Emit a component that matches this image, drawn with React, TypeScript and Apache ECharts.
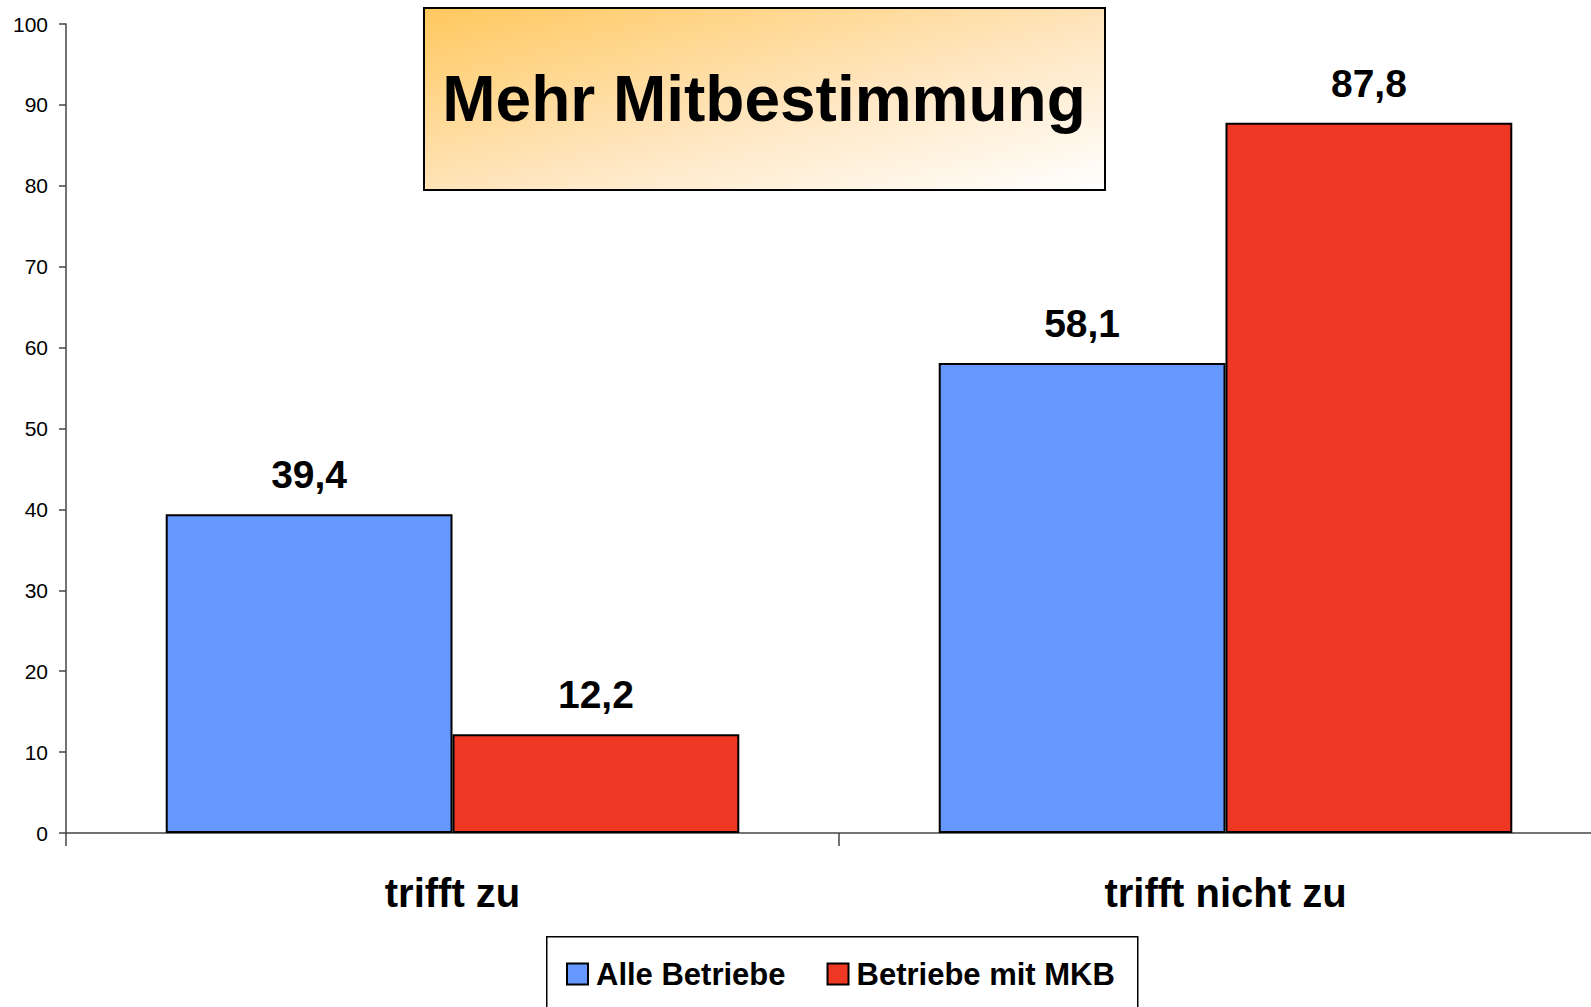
import React, { useEffect, useRef } from "react";
import * as echarts from "echarts";

const categories = ["trifft zu", "trifft nicht zu"];
const seriesNames = ["Alle Betriebe", "Betriebe mit MKB"];
const alleBetriebe = [39.4, 58.1];
const betriebeMitMKB = [12.2, 87.8];
const titleText = "Mehr Mitbestimmung";

const FONT = "'Liberation Sans', Arial, Helvetica, sans-serif";

export default function App() {
  const ref = useRef<HTMLDivElement>(null);
  useEffect(() => {
    document.body.style.margin = "0";
    const chart = echarts.init(ref.current!, null, { renderer: "svg" });
    const fmt = (p: any) => String(p.value).replace(".", ",");
    const labelStyle = {
      show: true,
      position: "top" as const,
      distance: 20,
      formatter: fmt,
      fontFamily: FONT,
      fontSize: 39,
      fontWeight: "bold" as const,
      color: "#000",
    };
    chart.setOption({
      animation: false,
      backgroundColor: "#fff",
      textStyle: { fontFamily: FONT },
      grid: { left: 66, top: 24, bottom: 174, width: 1546, containLabel: false },
      xAxis: {
        type: "category",
        data: categories,
        axisLine: { lineStyle: { color: "#444", width: 1.5 } },
        axisTick: { show: true, length: 13, alignWithLabel: false, lineStyle: { color: "#444", width: 1.5 } },
        axisLabel: {
          margin: 40,
          fontFamily: FONT,
          fontSize: 40,
          fontWeight: "bold",
          color: "#000",
        },
      },
      yAxis: {
        type: "value",
        min: 0,
        max: 100,
        interval: 10,
        splitLine: { show: false },
        axisLine: { show: true, lineStyle: { color: "#444", width: 1.5 } },
        axisTick: { show: true, length: 7, lineStyle: { color: "#444", width: 1.5 } },
        axisLabel: { margin: 18, fontFamily: FONT, fontSize: 21, color: "#000" },
      },
      legend: {
        data: seriesNames,
        left: 566,
        top: 958,
        padding: 0,
        itemWidth: 21,
        itemHeight: 21,
        itemGap: 41,
        icon: "rect",
        textStyle: {
          fontFamily: FONT,
          fontSize: 31,
          fontWeight: "bold",
          color: "#000",
          lineHeight: 32,
          padding: [0, 0, 0, 3],
        },
      },
      graphic: [
        {
          type: "rect",
          left: 423,
          top: 7,
          shape: { width: 681, height: 182 },
          style: {
            fill: {
              type: "linear",
              x: 0,
              y: 0,
              x2: 1,
              y2: 1,
              colorStops: [
                { offset: 0, color: "#FFC85E" },
                { offset: 0.55, color: "#FFE6C0" },
                { offset: 1, color: "#FFFFFF" },
              ],
            },
            stroke: "#000",
            lineWidth: 2,
          },
          z: 10,
        },
        {
          type: "text",
          x: 764,
          y: 99,
          style: {
            text: titleText,
            fontFamily: FONT,
            fontSize: 64,
            fontWeight: "bold",
            fill: "#000",
            align: "center",
            verticalAlign: "middle",
          },
          z: 11,
        },
        {
          type: "rect",
          left: 546,
          top: 936,
          shape: { width: 591, height: 100 },
          style: { fill: "#fff", stroke: "#000", lineWidth: 1.5 },
          z: 0,
        },
      ],
      series: [
        {
          name: seriesNames[0],
          type: "bar",
          data: alleBetriebe,
          barWidth: "37.1%",
          barGap: "0%",
          itemStyle: { color: "#6699FF", borderColor: "#000", borderWidth: 2 },
          label: labelStyle,
        },
        {
          name: seriesNames[1],
          type: "bar",
          data: betriebeMitMKB,
          barWidth: "37.1%",
          barGap: "0%",
          itemStyle: { color: "#EE3824", borderColor: "#000", borderWidth: 2 },
          label: labelStyle,
        },
      ],
    });
    return () => chart.dispose();
  }, []);
  return (
    <div style={{ width: 1591, height: 1007, overflow: "hidden" }}>
      <div ref={ref} style={{ width: 1640, height: 1007 }} />
    </div>
  );
}
